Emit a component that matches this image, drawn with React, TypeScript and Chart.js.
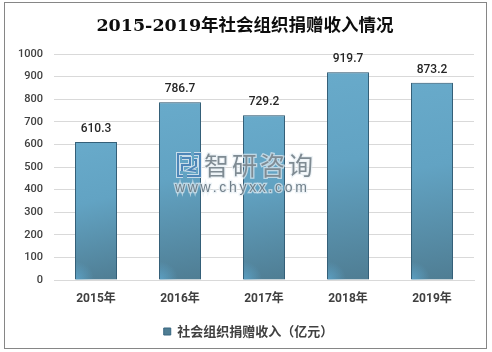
import React, { useEffect, useRef } from "react";
import { Chart, registerables } from "chart.js";

Chart.register(...registerables);

const categories = ["2015年", "2016年", "2017年", "2018年", "2019年"];
const seriesName = "社会组织捐赠收入（亿元）";
const values = [610.3, 786.7, 729.2, 919.7, 873.2];
const valueLabels = ["610.3", "786.7", "729.2", "919.7", "873.2"];
const titleText = "2015-2019年社会组织捐赠收入情况";
const watermarkName = "智研咨询";
const watermarkUrl = "www.chyxx.com";

const FONT = '"Noto Sans CJK SC", "Noto Sans", sans-serif';
const LABEL_FONT = 'Roboto, "Noto Sans CJK SC", sans-serif';

const frame = {
  id: "frame",
  afterLayout(c: any) {
    if (c.titleBlock) {
      c.titleBlock.left += 8;
      c.titleBlock.right += 8;
    }
    if (c.legend) {
      c.legend.left += 11.5;
      c.legend.right += 11.5;
      c.legend.top -= 4;
      c.legend.bottom -= 4;
    }
  },
  beforeDraw(c: any) {
    const { ctx, width, height } = c;
    ctx.save();
    ctx.fillStyle = "#fff";
    ctx.fillRect(0, 0, width, height);
    ctx.strokeStyle = "#868686";
    ctx.lineWidth = 1;
    ctx.strokeRect(4.5, 2.5, 482, 346);
    ctx.restore();
  },
};

const barLabels = {
  id: "barLabels",
  beforeDatasetsDraw(c: any) {
    const { ctx } = c;
    ctx.save();
    ctx.shadowColor = "rgba(0,0,0,0.2)";
    ctx.shadowBlur = 2;
  },
  afterDatasetsDraw(c: any) {
    const { ctx } = c;
    ctx.restore();
    const bars = c.getDatasetMeta(0).data;
    ctx.save();
    bars.forEach((b: any) => {
      const left = b.x - b.width / 2 + 1;
      const right = b.x + b.width / 2 - 1;
      const g = ctx.createRadialGradient(left, b.base, 0, left, b.base, 18);
      g.addColorStop(0, "rgba(96,172,212,0.7)");
      g.addColorStop(1, "rgba(96,172,212,0)");
      ctx.fillStyle = g;
      ctx.fillRect(left, b.base - 18, right - left, 18);
    });
    ctx.font = `500 12px ${LABEL_FONT}`;
    ctx.fillStyle = "#262626";
    ctx.textAlign = "center";
    ctx.textBaseline = "middle";
    bars.forEach((b: any, i: number) => {
      ctx.fillText(valueLabels[i], b.x, b.y - 13);
    });
    ctx.restore();
  },
};

const watermark = {
  id: "watermark",
  afterDraw(c: any) {
    const { ctx } = c;
    ctx.save();
    const paths: number[][][] = [
      [[191, 154], [178, 154], [178, 176], [183, 176]],
      [[182, 158], [190, 158], [190, 165], [182, 165], [182, 171]],
      [[194, 154], [200, 154], [200, 176], [187, 176]],
      [[194, 160], [196, 160], [196, 166], [189, 170], [196, 171]],
    ];
    ctx.lineJoin = "miter";
    ctx.strokeStyle = "rgba(225,235,242,0.8)";
    ctx.lineWidth = 4;
    const trace = () =>
      paths.forEach((p) => {
        ctx.beginPath();
        p.forEach(([x, y], i) => (i ? ctx.lineTo(x, y) : ctx.moveTo(x, y)));
        ctx.stroke();
      });
    trace();
    ctx.strokeStyle = "#4f86b8";
    ctx.lineWidth = 2;
    trace();

    ctx.textAlign = "left";
    ctx.textBaseline = "middle";
    ctx.font = `25px ${FONT}`;
    (ctx as any).letterSpacing = "3px";
    ctx.lineWidth = 2.5;
    ctx.strokeStyle = "rgba(230,238,244,0.7)";
    ctx.strokeText(watermarkName, 204, 165);
    ctx.fillStyle = "#7f8b93";
    ctx.fillText(watermarkName, 204, 165);

    ctx.font = `14px "Liberation Sans", sans-serif`;
    (ctx as any).letterSpacing = "2.7px";
    ctx.strokeText(watermarkUrl, 175, 188);
    ctx.fillStyle = "#6f7e88";
    ctx.fillText(watermarkUrl, 175, 188);
    ctx.restore();
  },
};

export default function App() {
  const ref = useRef<HTMLCanvasElement>(null);

  useEffect(() => {
    const canvas = ref.current!;
    const chart = new Chart(canvas, {
      type: "bar",
      data: {
        labels: categories,
        datasets: [
          {
            label: seriesName,
            data: values,
            backgroundColor: (ctx: any) => {
              const area = ctx.chart.chartArea;
              const sx = ctx.chart.scales.x;
              const sy = ctx.chart.scales.y;
              if (!area || !sx || !sy || ctx.type !== "data") return "#5f9cbb";
              const x = sx.getPixelForValue(ctx.dataIndex);
              const y = sy.getPixelForValue(values[ctx.dataIndex]);
              if (!Number.isFinite(x) || !Number.isFinite(y)) return "#5f9cbb";
              const g = ctx.chart.ctx.createLinearGradient(x - 12, y, x + 21, area.bottom);
              g.addColorStop(0, "#68aaca");
              g.addColorStop(0.42, "#62a3c3");
              g.addColorStop(1, "#4f7d93");
              return g;
            },
            borderColor: "#386680",
            borderWidth: 1,
            barPercentage: 0.5,
            categoryPercentage: 1,
          },
        ],
      },
      options: {
        responsive: false,
        animation: false,
        layout: { padding: { left: 0, right: 18, top: 0, bottom: 0 } },
        scales: {
          x: {
            grid: { display: false, drawTicks: false },
            border: { color: "#d9d9d9" },
            ticks: {
              color: "#404040",
              padding: 12,
              font: { family: LABEL_FONT, size: 12, weight: "bold" },
            },
            afterFit(s: any) {
              s.height = 35;
            },
          },
          y: {
            min: 0,
            max: 1000,
            grid: { color: "#d9d9d9", lineWidth: 1, drawTicks: false },
            border: { display: false },
            ticks: {
              stepSize: 100,
              color: "#404040",
              padding: 11,
              font: { family: LABEL_FONT, size: 11, weight: "500" },
              callback: (v: any) => String(v),
            },
            afterFit(s: any) {
              s.width = 54;
            },
          },
        },
        plugins: {
          tooltip: { enabled: false },
          title: {
            display: true,
            text: titleText,
            color: "#0d0d0d",
            padding: { top: 16, bottom: 17 },
            font: { family: '"DejaVu Serif", "Noto Sans CJK SC", serif', size: 17.5, weight: "bold" },
          },
          legend: {
            display: true,
            position: "bottom",
            labels: {
              boxWidth: 7,
              boxHeight: 7,
              padding: 14,
              color: "#404040",
              font: { family: FONT, size: 13, weight: "bold" },
            },
          },
        },
      },
      plugins: [frame, barLabels, watermark],
    } as any);
    return () => chart.destroy();
  }, []);

  return (
    <div style={{ position: "absolute", left: 0, top: 0, width: 492, height: 352 }}>
      <canvas ref={ref} width={492} height={352} style={{ display: "block" }} />
    </div>
  );
}
